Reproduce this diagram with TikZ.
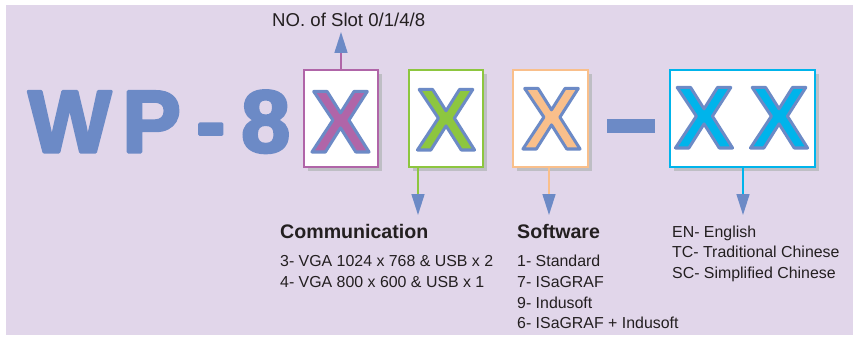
\documentclass[tikz,border=0pt]{standalone}
\usepackage{fontspec}
\setmainfont{Liberation Sans}
\usetikzlibrary{arrows.meta}
\definecolor{bgl}{RGB}{225,214,234}
\definecolor{xblue}{RGB}{108,138,198}
\definecolor{xpurple}{RGB}{176,101,168}
\definecolor{xgreen}{RGB}{141,198,63}
\definecolor{xorange}{RGB}{249,191,139}
\definecolor{xcyan}{RGB}{0,180,235}
\definecolor{shad}{RGB}{190,190,196}
\definecolor{ink}{RGB}{35,31,32}
\newcommand\outX[1]{\textcolor{#1}{\special{pdf:literal direct 2 Tr 3.0 w 1 j 0.424 0.541 0.776 RG}X\special{pdf:literal direct 0 Tr 0.4 w}}}
\newcommand\heavy[1]{\special{pdf:literal direct 2 Tr 3.0 w 1 j 0.424 0.541 0.776 RG}#1\special{pdf:literal direct 0 Tr 0.4 w}}
\tikzset{
  big/.style={inner sep=0, anchor=base west, text=xblue, font=\fontsize{88}{88}\bfseries\selectfont},
  bx/.style={draw, line width=2pt, fill=white},
  bigx/.style={inner sep=0, anchor=base, font=\fontsize{88}{88}\bfseries\selectfont},
  head/.style={inner sep=0, anchor=base west, text=ink, font=\fontsize{19.6}{24}\bfseries\selectfont},
  lst/.style={inner sep=0, anchor=base west, text=ink, font=\fontsize{15.9}{20}\selectfont},
  conn/.style={line width=1.6pt, -{Triangle[color=xblue, width=13pt, length=21pt]}},
}
\begin{document}
\begin{tikzpicture}[x=1pt, y=-1pt]
\useasboundingbox (0,0) rectangle (853,337);
\fill[bgl] (6,5) rectangle (853,335);
% shadows
\foreach \a/\b in {304/378, 409/483, 513/588, 670/815}
  \fill[shad] (\a+4,73.5) rectangle (\b+4,170.5);
% boxes
\node[bx, draw=xpurple, minimum width=74pt, minimum height=97pt] (b1) at (341,118) {};
\node[bx, draw=xgreen, minimum width=74pt, minimum height=97pt] (b2) at (446,118) {};
\node[bx, draw=xorange, minimum width=75pt, minimum height=97pt] (b3) at (550.5,118) {};
\node[bx, draw=xcyan, minimum width=145pt, minimum height=97pt] (b4) at (742.5,118) {};
% dash
\fill[xblue] (607,119) rectangle (655,133);
% labels
\node[inner sep=0, anchor=base west, text=ink, font=\fontsize{18.6}{20}\selectfont] (slot) at (272,27) {NO. of Slot 0/1/4/8};
\coordinate (t1) at (341,32);
\draw[conn, xpurple] (b1.north) -- (t1);
\coordinate (t2) at (418,215);
\coordinate (t3) at (549,215);
\coordinate (t4) at (743,215);
\draw[conn, xgreen] (b2.south -| t2) -- (t2);
\draw[conn, xorange] (b3.south -| t3) -- (t3);
\draw[conn, xcyan] (b4.south -| t4) -- (t4);
\node[head] (comm) at (280,238) {Communication};
\node[lst] (c1) at (280,266) {3- VGA 1024 x 768 \& USB x 2};
\node[lst] (c2) at (280,287) {4- VGA 800 x 600 \& USB x 1};
\node[head] (soft) at (517,238) {Software};
\node[lst] (s1) at (517,266) {1- Standard};
\node[lst] (s2) at (517,287) {7- ISaGRAF};
\node[lst] (s3) at (517,308) {9- Indusoft};
\node[lst] (s4) at (517,328) {6- ISaGRAF + Indusoft};
\node[lst] (l1) at (672,237) {EN- English};
\node[lst] (l2) at (672,257) {TC- Traditional Chinese};
\node[lst] (l3) at (672,278) {SC- Simplified Chinese};
% WP-8 (heavy)
\node[big] (w) at (28,152) {\heavy{W}};
\node[big] (p) at (122,152) {\heavy{P}};
\node[big] (h) at (196,152) {\heavy{-}};
\node[big] (e) at (241,152) {\heavy{8}};
% X letters (outlined)
\node[bigx] (x1) at (340.5,152) {\outX{xpurple}};
\node[bigx] (x2) at (446,150) {\outX{xgreen}};
\node[bigx] (x3) at (551.5,149) {\outX{xorange}};
\node[bigx] (x4) at (704,148) {\outX{xcyan}};
\node[bigx] (x5) at (779,148) {\outX{xcyan}};
\end{tikzpicture}
\end{document}
